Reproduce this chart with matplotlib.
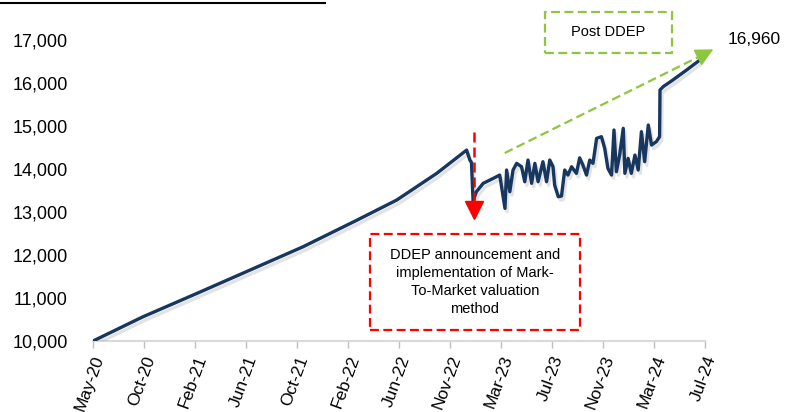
import matplotlib
matplotlib.use("Agg")
import matplotlib.pyplot as plt
import matplotlib.patheffects as pe
from matplotlib.patches import Rectangle
from matplotlib.lines import Line2D
import pandas as pd

plt.rcParams['font.family'] = ['Liberation Sans', 'DejaVu Sans']

# ---- data ----
dates = [
    "2020-05-25", "2020-09-26", "2021-02-07", "2021-06-18", "2021-10-27",
    "2022-03-10", "2022-06-17", "2022-09-24", "2022-12-07", "2022-12-15",
    "2022-12-19", "2022-12-23", "2022-12-31", "2023-01-17", "2023-02-11",
    "2023-02-27", "2023-03-12", "2023-03-16", "2023-03-24", "2023-04-01",
    "2023-04-10", "2023-04-22", "2023-04-30", "2023-05-08", "2023-05-17",
    "2023-05-25", "2023-06-02", "2023-06-14", "2023-06-23", "2023-07-01",
    "2023-07-09", "2023-07-13", "2023-07-22", "2023-07-30", "2023-08-07",
    "2023-08-15", "2023-08-24", "2023-09-05", "2023-09-13", "2023-09-21",
    "2023-09-30", "2023-10-08", "2023-10-16", "2023-10-25", "2023-11-06",
    "2023-11-14", "2023-11-22", "2023-12-01", "2023-12-07", "2023-12-13",
    "2023-12-21", "2023-12-30", "2024-01-03", "2024-01-11", "2024-01-19",
    "2024-01-28", "2024-02-05", "2024-02-13", "2024-02-21", "2024-03-01",
    "2024-03-09", "2024-03-21", "2024-03-29", "2024-03-30", "2024-04-07",
    "2024-05-01", "2024-06-04", "2024-07-07", "2024-07-14",
]
values = [
    10000, 10565, 11110, 11650, 12190,
    12810, 13280, 13900, 14440, 14210,
    14150, 13250, 13470, 13667, 13783,
    13860, 13085, 13977, 13472, 13977,
    14132, 14054, 13705, 14209, 13667,
    14132, 13705, 14170, 13705, 14209,
    14054, 13628, 13357, 13372, 13977,
    13860, 14054, 13900, 14260, 14093,
    13860, 14209, 14132, 14713, 14752,
    14481, 14015, 13860, 14907, 13938,
    14325, 14946, 13900, 14248, 13900,
    14325, 13977, 14868, 14170, 15023,
    14558, 14636, 14752, 15837, 15915,
    16070, 16302, 16535, 16651,
]
x_labels = ["May-20", "Oct-20", "Feb-21", "Jun-21", "Oct-21", "Feb-22", "Jun-22",
            "Nov-22", "Mar-23", "Jul-23", "Nov-23", "Mar-24", "Jul-24"]
y_ticks = [10000, 11000, 12000, 13000, 14000, 15000, 16000, 17000]
x_start, x_end = "2020-05-25", "2024-07-19"
ddep_date = "2022-12-25"
final_label = "16,960"
ddep_text = "DDEP announcement and\nimplementation of Mark-\nTo-Market valuation\nmethod"
post_text = "Post DDEP"

dt = pd.to_datetime(dates)
navy = "#17375E"
red = "#FF0000"
green = "#8DC63F"

fig = plt.figure(figsize=(8, 4.12), dpi=100)
ax = fig.add_axes([0.116, 0.172, 0.765, 0.731])

ax.plot(dt, values, color=navy, lw=2.4, solid_joinstyle='round',
        path_effects=[pe.SimpleLineShadow(offset=(1.5, -2.5), shadow_color='gray', alpha=0.22),
                      pe.Normal()], zorder=3)

ax.set_ylim(10000, 17000)
ax.set_yticks(y_ticks)
ax.set_yticklabels([f"{v:,}" for v in y_ticks], fontsize=13)
ax.tick_params(axis='y', length=0, pad=18)

xs = pd.date_range(x_start, x_end, periods=len(x_labels))
ax.set_xlim(pd.Timestamp(x_start), pd.Timestamp(x_end))
ax.set_xticks(xs)
ax.set_xticklabels(x_labels, rotation=70, ha='right', rotation_mode='anchor', fontsize=12.5)
ax.tick_params(axis='x', length=5, color='#BFBFBF', width=1, pad=4)

for s in ['top', 'right', 'left']:
    ax.spines[s].set_visible(False)
ax.spines['bottom'].set_color('#D9D9D9')
ax.spines['bottom'].set_linewidth(1.5)

# red DDEP marker
dd = pd.Timestamp(ddep_date)
ax.plot([dd, dd], [14870, 13250], color=red, lw=1.8, ls=(0, (4, 2)), zorder=4)
ax.plot([dd], [13050], marker='v', color=red, markersize=13, zorder=5, clip_on=False)

# red dashed box with text
ax.add_patch(Rectangle((0.4526, 0.0365), 0.3432, 0.319, transform=ax.transAxes,
                       fill=False, ec=red, lw=1.6, ls=(0, (4, 2)), clip_on=False))
ax.text(0.624, 0.196, ddep_text, transform=ax.transAxes, ha='center', va='center',
        fontsize=10.5, linespacing=1.35)

# green arrow
ax.plot([0.673, 1.005], [0.6246, 0.959], transform=ax.transAxes, color=green,
        lw=1.6, ls=(0, (4, 2)), clip_on=False)
ax.annotate('', xy=(1.018, 0.973), xytext=(0.998, 0.952), xycoords='axes fraction',
            textcoords='axes fraction',
            arrowprops=dict(arrowstyle='-|>,head_length=1.1,head_width=0.55',
                            color=green, lw=1.2), annotation_clip=False)

# green dashed box with text
ax.add_patch(Rectangle((0.7386, 0.957), 0.2075, 0.136, transform=ax.transAxes,
                       fill=False, ec=green, lw=1.6, ls=(0, (4, 2)), clip_on=False))
ax.text(0.8415, 1.025, post_text, transform=ax.transAxes, ha='center', va='center',
        fontsize=10.5)

ax.text(1.0376, 1.0, final_label, transform=ax.transAxes, ha='left', va='center',
        fontsize=12.5)

# cut-off title underline at top
fig.add_artist(Line2D([0, 0.406], [0.992, 0.992], transform=fig.transFigure,
                      color='black', lw=1.5))

fig.savefig("out.png", dpi=100)
